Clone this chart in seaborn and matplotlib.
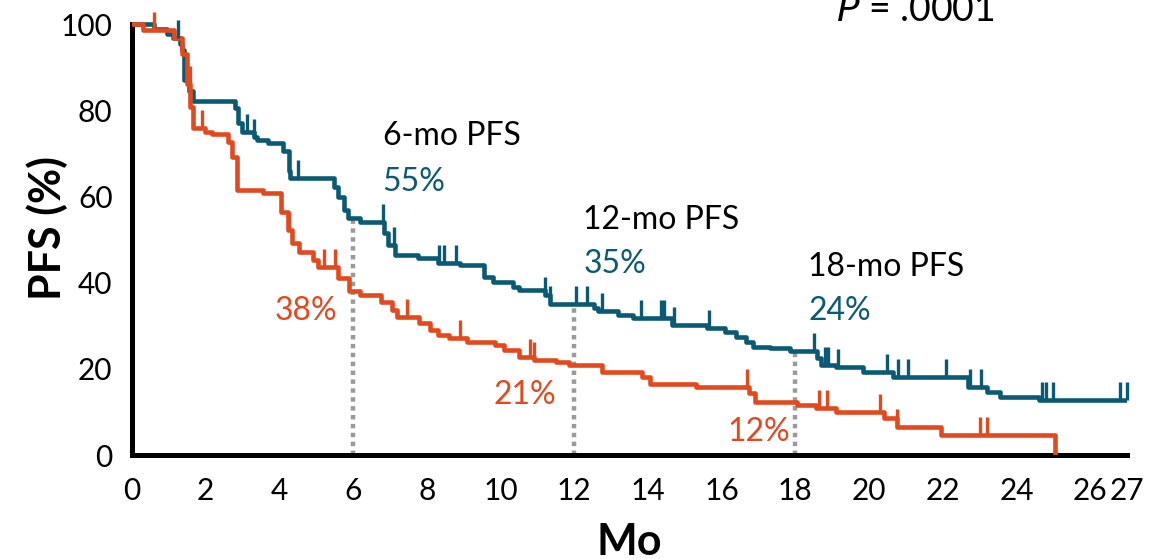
import numpy as np
import pandas as pd
import matplotlib
matplotlib.use("Agg")
import matplotlib.pyplot as plt
import seaborn as sns

# Kaplan-Meier step points (months, PFS %) for the two arms
teal_t = [0, 0.6, 0.95, 1.1, 1.3, 1.37, 1.42, 1.55, 1.66, 2.8, 2.88, 2.98, 3.3, 3.4,
          3.7, 4.1, 4.25, 4.3, 5.47, 5.6, 5.75, 5.85, 6.2, 6.85, 6.95, 7.15, 7.75,
          8.3, 8.9, 9.55, 9.8, 10.35, 10.5, 11.2, 11.35, 12.55, 12.65, 13.2, 13.6,
          14.65, 15.6, 16.1, 16.4, 16.65, 16.85, 17.3, 17.85, 18.6, 18.7, 19.1,
          19.85, 20.65, 22.7, 23.2, 23.55, 24.6, 27.0]
teal_s = [100, 98.8, 97.8, 96.7, 95.3, 94, 87, 84.5, 82.2, 80.5, 77, 75, 73.8, 73.1,
          72.4, 70.5, 66, 64.2, 62.2, 59.9, 56.8, 55, 54, 51.5, 48.8, 46.4, 45.7,
          44.5, 44, 41.3, 40.1, 39, 38.3, 37.1, 35, 34.2, 33.4, 32.5, 31.8,
          30.2, 29.4, 28.6, 27.5, 26.3, 25, 24.8, 24.2, 22.5, 20.9, 20.5,
          19.3, 18.2, 15.8, 14.7, 13.5, 12.8, 12.8]

orange_t = [0, 0.3, 1.15, 1.35, 1.5, 1.58, 1.66, 1.98, 2.18, 2.6, 2.72, 2.85, 3.55,
            4.03, 4.22, 4.35, 4.52, 4.9, 5.05, 5.6, 5.9, 6.2, 6.75, 7.05, 7.2, 7.8,
            8.1, 8.3, 8.6, 9.1, 9.85, 10.1, 10.5, 10.9, 11.5, 11.85, 12.75, 13.85,
            14.05, 15.3, 16.75, 16.9, 18.05, 18.55, 19.1, 20.4, 20.75, 21.95, 25.05]
orange_s = [100, 98.6, 96.7, 93, 86, 80.7, 75.8, 75, 74.5, 72.6, 69.1, 61.5, 60.8,
            56.4, 52.2, 49.2, 47.1, 45.2, 43.6, 41, 38, 37.1, 35.5, 33.6, 32, 30.6,
            29, 27.8, 27.1, 26.3, 25.5, 24.4, 22.8, 22, 21.6, 21, 19.3, 18.2,
            16.5, 15.7, 14.4, 12.4, 11.6, 10.9, 10, 8.6, 6.5, 4.6, 0]

# Censoring times
teal_cens = [1.24, 3.13, 3.3, 4.5, 6.8, 7.1, 8.33, 8.47, 8.8, 11.2, 11.35, 12.05,
             12.35, 12.75, 13.8, 14.35, 14.45, 14.7, 15.65, 18.5, 18.8, 18.9, 19.15,
             20.5, 20.8, 21.05, 22.1, 22.75, 23.05, 24.7, 24.8, 25.0, 26.8, 27.0]
orange_cens = [0.6, 1.57, 1.9, 4.25, 5.2, 5.5, 7.45, 8.9, 10.8, 10.9, 16.7, 18.65,
               18.85, 20.3, 20.75, 23.0, 23.2]

# Milestone landmarks
milestones = [6, 12, 18]
milestone_titles = ["6-mo PFS", "12-mo PFS", "18-mo PFS"]
teal_pct = [55, 35, 24]
orange_pct = [38, 21, 12]

x_ticks = list(range(0, 28))
x_ticklabels = [str(v) if (v % 2 == 0 or v == 27) else "" for v in x_ticks]
y_ticks = [0, 20, 40, 60, 80, 100]

TEAL = "#0b5a74"
ORANGE = "#e2491d"
GREY = "#9a9a9a"

sns.set_theme(style="white")
plt.rcParams["font.family"] = ["Lato", "DejaVu Sans"]
plt.rcParams["text.color"] = "black"
plt.rcParams["axes.labelcolor"] = "black"
plt.rcParams["xtick.color"] = "black"
plt.rcParams["ytick.color"] = "black"

fig = plt.figure(figsize=(11.63, 5.59), dpi=100)
ax = fig.add_axes([0.1135, 0.186, 0.8555, 0.814])

df = pd.concat([
    pd.DataFrame({"t": teal_t, "s": teal_s, "arm": "teal"}),
    pd.DataFrame({"t": orange_t, "s": orange_s, "arm": "orange"}),
])

# dotted landmark lines up to the upper curve
ax.vlines(milestones, 0, teal_pct, colors=GREY, linewidth=3.2,
          linestyles=(0, (1, 1)), zorder=1)

sns.lineplot(data=df, x="t", y="s", hue="arm",
             palette={"teal": TEAL, "orange": ORANGE},
             estimator=None, sort=False, drawstyle="steps-post",
             linewidth=3.3, legend=False, ax=ax, zorder=3)


def step_value(times, surv, q):
    idx = np.searchsorted(times, q, side="right") - 1
    return np.asarray(surv)[idx]


tick_h = 4.2
for times, surv, cens, col in [(teal_t, teal_s, teal_cens, TEAL),
                               (orange_t, orange_s, orange_cens, ORANGE)]:
    base = step_value(times, surv, cens)
    ax.vlines(cens, base, base + tick_h, colors=col, linewidth=2.4,
              zorder=3, clip_on=False)

# landmark annotations
title_y = [74, 54.5, 43.6]
teal_y = [63.3, 44.3, 33.4]
orange_xy = [(5.58, 33.4), (11.5, 13.9), (17.85, 5.3)]
title_x = [6.8, 12.25, 18.35]
for i in range(3):
    ax.text(title_x[i], title_y[i], milestone_titles[i], fontsize=23,
            color="black", ha="left", va="center")
    ax.text(title_x[i], teal_y[i], f"{teal_pct[i]}%", fontsize=23,
            color=TEAL, ha="left", va="center")
    ax.text(orange_xy[i][0], orange_xy[i][1], f"{orange_pct[i]}%", fontsize=23,
            color=ORANGE, ha="right", va="center")

ax.text(19.1, 100.8, r"$\mathit{P}$ = .0001", fontsize=27, ha="left",
        va="baseline")

ax.set_xlim(0, 27)
ax.set_ylim(0, 105.6)
ax.set_xticks(x_ticks)
ax.set_xticklabels(x_ticklabels, fontsize=21.5)
ax.set_yticks(y_ticks)
ax.set_yticklabels([str(v) for v in y_ticks], fontsize=21.5)

for side in ["top", "right"]:
    ax.spines[side].set_visible(False)
for side in ["left", "bottom"]:
    ax.spines[side].set_linewidth(3.6)
    ax.spines[side].set_color("black")
ax.spines["left"].set_bounds(0, 100)
ax.spines["bottom"].set_bounds(0, 27)
ax.tick_params(axis="y", direction="out", length=10, width=3.6, pad=4)
ax.tick_params(axis="x", direction="out", length=13, width=3.6, pad=3)

ax.set_xlabel("Mo", fontsize=31, fontweight="bold", labelpad=12)
ax.set_ylabel("PFS (%)", fontsize=31, fontweight="bold", labelpad=-5)
ax.grid(False)

fig.savefig("out.png", dpi=100)
